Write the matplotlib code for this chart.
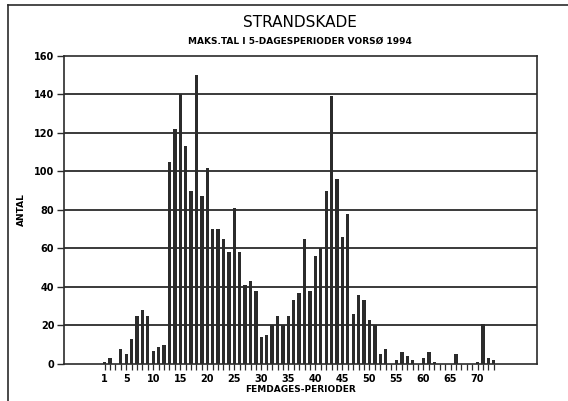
import matplotlib
matplotlib.use('Agg')
import matplotlib.pyplot as plt
from matplotlib.lines import Line2D

# perioder 1..73 og maks.tal
perioder = list(range(1, 74))
antal = [1, 3, 0, 8, 5, 13, 25, 28, 25, 7,
         9, 10, 105, 122, 140, 113, 90, 150, 87, 102,
         70, 70, 65, 58, 81, 58, 41, 43, 38, 14,
         15, 20, 25, 20, 25, 33, 37, 65, 38, 56,
         60, 90, 139, 96, 66, 78, 26, 36, 33, 23,
         20, 5, 8, 0, 2, 6, 4, 2, 0, 3,
         6, 1, 0, 0, 0, 5, 0, 0, 0, 1,
         21, 3, 2]
x_labels = [1, 5, 10, 15, 20, 25, 30, 35, 40, 45, 50, 55, 60, 65, 70]
y_ticks = list(range(0, 161, 20))

ink = '#2b2b2b'
fig = plt.figure(figsize=(5.68, 4.01), dpi=100)
ax = fig.add_axes([0.1127, 0.0923, 0.8327, 0.7685])

# gitterlinjer
for y in y_ticks[1:-1]:
    ax.axhline(y, color=ink, lw=1.3, zorder=1)

ax.bar(perioder, antal, width=0.62, color=ink, zorder=2)

ax.set_xlim(-6.5, 81)
ax.set_ylim(0, 160)
ax.set_yticks(y_ticks)
ax.set_yticklabels([str(v) for v in y_ticks], fontsize=7, fontweight='bold')
ax.set_xticks(x_labels)
ax.set_xticklabels([str(v) for v in x_labels], fontsize=7, fontweight='bold')
ax.set_xticks(perioder, minor=True)
ax.tick_params(axis='x', which='both', direction='out', length=4, width=0.9, color=ink, pad=3)
ax.tick_params(axis='y', direction='out', length=5, width=1.0, color=ink, pad=2)
for s in ax.spines.values():
    s.set_color(ink)
    s.set_linewidth(1.2)

ax.set_xlabel('FEMDAGES-PERIODER', fontsize=6.5, fontweight='bold', labelpad=1)
ax.set_ylabel('ANTAL', fontsize=6.5, fontweight='bold', labelpad=6)

fig.text(0.528, 0.945, 'STRANDSKADE', ha='center', va='center', fontsize=11)
fig.text(0.528, 0.896, 'MAKS.TAL I 5-DAGESPERIODER VORSØ 1994', ha='center', va='center',
         fontsize=6.5, fontweight='bold')

# ramme om figuren
fig.add_artist(Line2D([0.014, 0.014], [0.0, 0.988], transform=fig.transFigure, color=ink, lw=1.2))
fig.add_artist(Line2D([0.014, 1.0], [0.988, 0.988], transform=fig.transFigure, color=ink, lw=1.2))

fig.savefig('out.png', dpi=100)
